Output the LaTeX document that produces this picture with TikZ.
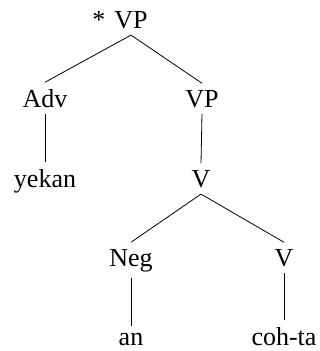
\documentclass[tikz,border=0pt]{standalone}
\usepackage{fontspec}
\setmainfont{Liberation Serif}
\begin{document}
\begin{tikzpicture}[x=1pt,y=-1pt,
  lab/.style={anchor=base,inner sep=6.5pt,font=\fontsize{26}{31}\selectfont},
  leaf/.style={lab,inner sep=2pt},
  edge/.style={line width=0.8pt},
  toleaf/.style={edge,shorten >=4.5pt}]
\useasboundingbox (0,0) rectangle (320,351);
% tree labels, placed by baseline
\node[lab] (root) at (131,28) {VP};
\node[lab,anchor=base east,inner xsep=0pt] (star) at ([xshift=-2pt]root.base west) {*};
\node[lab] (adv) at (45,107) {Adv};
\node[lab] (vp) at (202,107) {VP};
\node[leaf] (yekan) at (45,187) {yekan};
\node[lab] (v) at (201,187) {V};
\node[lab] (neg) at (131,266) {Neg};
\node[lab] (v2) at (284,266) {V};
\node[leaf] (an) at (131,345) {an};
\node[leaf] (cohta) at (284,345) {coh-ta};
% branches
\draw[edge] (root.south) -- (adv.north);
\draw[edge] (root.south) -- (vp.north);
\draw[toleaf] (adv.south) -- (yekan.north);
\draw[edge] (vp.south) -- (v.north);
\draw[edge] (v.south) -- (neg.north);
\draw[edge] (v.south) -- (v2.north);
\draw[toleaf] (neg.south) -- (an.north);
\draw[toleaf] (v2.south) -- (cohta.north);
\end{tikzpicture}
\end{document}
